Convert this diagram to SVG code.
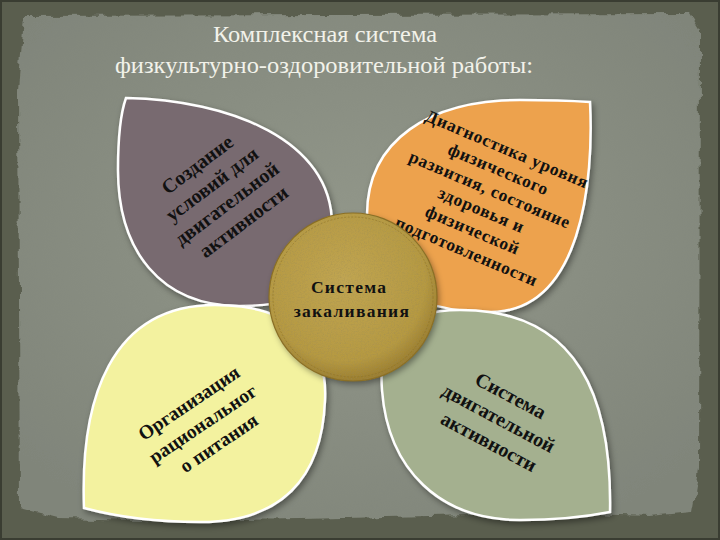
<svg xmlns="http://www.w3.org/2000/svg" width="720" height="540" viewBox="0 0 720 540">
  <defs>
    <style>
      .title { font-family: "Liberation Serif", "DejaVu Serif", serif; font-size: 23px; fill: #f2f2ea; }
      .leaf { stroke: #ffffff; stroke-width: 2.5; filter: url(#shadow); }
      .lbl { font-family: "Liberation Serif", "Times New Roman", serif; font-weight: bold; fill: #111111; text-anchor: middle; }
    </style>
    <radialGradient id="panelGrad" cx="50%" cy="45%" r="65%">
      <stop offset="0" stop-color="#92978a"/>
      <stop offset="1" stop-color="#80857a"/>
    </radialGradient>
    <radialGradient id="goldGrad" cx="45%" cy="40%" r="60%">
      <stop offset="0" stop-color="#c0a552"/>
      <stop offset="0.8" stop-color="#b59942"/>
      <stop offset="1" stop-color="#9c7f30"/>
    </radialGradient>
    <filter id="rough" x="-5%" y="-5%" width="110%" height="110%">
      <feTurbulence type="fractalNoise" baseFrequency="0.06" numOctaves="3" seed="4" result="n"/>
      <feDisplacementMap in="SourceGraphic" in2="n" scale="9" xChannelSelector="R" yChannelSelector="G"/>
    </filter>
    <filter id="grain" x="0" y="0" width="100%" height="100%">
      <feTurbulence type="fractalNoise" baseFrequency="0.7" numOctaves="2" seed="2" result="n"/>
      <feColorMatrix in="n" type="matrix" values="0 0 0 0 0.3  0 0 0 0 0.25  0 0 0 0 0.1  0.8 0 0 0 -0.35" result="c"/>
      <feComposite in="c" in2="SourceGraphic" operator="in" result="t"/>
      <feMerge><feMergeNode in="SourceGraphic"/><feMergeNode in="t"/></feMerge>
    </filter>
    <filter id="shadow" x="-10%" y="-10%" width="125%" height="125%">
      <feDropShadow dx="2" dy="3" stdDeviation="3" flood-color="#000" flood-opacity="0.4"/>
    </filter>
  </defs>

  <!-- background frame -->
  <rect x="0" y="0" width="720" height="540" fill="#5a5e4e"/>
  <rect x="1" y="1" width="718" height="538" fill="none" stroke="#3a3d32" stroke-width="2"/>
  <path d="M24,16 L690,14 L700,30 L699,470 L692,512 L650,516 L560,513 L300,519 L180,521 L60,518 L20,508 L18,90 Z" fill="url(#panelGrad)" filter="url(#rough)"/>

  <!-- title -->
  <g id="title">
    <text class="title" x="325" y="42" text-anchor="middle" textLength="224" lengthAdjust="spacingAndGlyphs">Комплексная  система</text>
    <text class="title" x="324" y="73" text-anchor="middle" textLength="418" lengthAdjust="spacingAndGlyphs">физкультурно-оздоровительной  работы:</text>
  </g>

  <g id="connectors"></g>

  <!-- top-left leaf -->
  <g id="leaf-conditions">
    <path class="leaf" fill="#786a6f" d="M126,98 C230,100 332,140 332,225 C333,290 300,306 240,306 C160,306 118,250 118,170 C118,132 121,112 126,98 Z"/>
    <text class="lbl" font-size="20" transform="translate(221,192) rotate(-37)">
      <tspan x="0" y="-29.5">Создание</tspan>
      <tspan x="0" y="-5">условий для</tspan>
      <tspan x="0" y="19.5">двигательной</tspan>
      <tspan x="0" y="44">активности</tspan>
    </text>
  </g>

  <!-- top-right leaf -->
  <g id="leaf-diagnostics">
    <path class="leaf" fill="#eda24e" d="M590,102 C594,180 582,312 490,312 C410,312 367,280 367,215 C367,140 430,100 520,100 C550,100 575,101 590,102 Z"/>
    <text class="lbl" font-size="17.5" letter-spacing="0.7" transform="translate(488,200.5) rotate(23)">
      <tspan x="0" y="-49">Диагностика уровня</tspan>
      <tspan x="0" y="-27">физического</tspan>
      <tspan x="0" y="-5">развития, состояние</tspan>
      <tspan x="0" y="17">здоровья и</tspan>
      <tspan x="0" y="39">физической</tspan>
      <tspan x="0" y="61">подготовленности</tspan>
    </text>
  </g>

  <!-- bottom-left leaf -->
  <g id="leaf-nutrition">
    <path class="leaf" fill="#f3f29f" d="M84,508 C80,400 110,305 215,305 C290,305 328,340 325,400 C322,480 280,522 200,522 C150,522 110,515 84,508 Z"/>
    <text class="lbl" font-size="19.5" transform="translate(204.5,422) rotate(-34)">
      <tspan x="0" y="-18">Организация</tspan>
      <tspan x="0" y="7">рациональног</tspan>
      <tspan x="0" y="32">о питания</tspan>
    </text>
  </g>

  <!-- bottom-right leaf -->
  <g id="leaf-motor">
    <path class="leaf" fill="#a4b08f" d="M610,512 C612,400 580,310 460,310 C400,310 378,340 382,390 C388,470 440,520 520,520 C560,520 590,516 610,512 Z"/>
    <text class="lbl" font-size="20" transform="translate(501,419) rotate(28)">
      <tspan x="0" y="-18.5">Система</tspan>
      <tspan x="0" y="7">двигательной</tspan>
      <tspan x="0" y="32.5">активности</tspan>
    </text>
  </g>

  <!-- center -->
  <g id="center-hardening">
    <circle cx="353" cy="297" r="84" fill="url(#goldGrad)" filter="url(#shadow)"/>
    <circle cx="353" cy="297" r="84" fill="url(#goldGrad)" filter="url(#grain)"/>
    <circle cx="353" cy="297" r="80" fill="none" stroke="#8c7228" stroke-width="0.8" stroke-dasharray="2 1.5" opacity="0.7"/>
    <circle cx="353" cy="297" r="84" fill="none" stroke="#8a6f26" stroke-width="1.2"/>
    <text class="lbl" font-size="17.5" letter-spacing="1.3">
      <tspan x="352" y="293">Система</tspan>
      <tspan x="352" y="317">закаливания</tspan>
    </text>
  </g>
</svg>
